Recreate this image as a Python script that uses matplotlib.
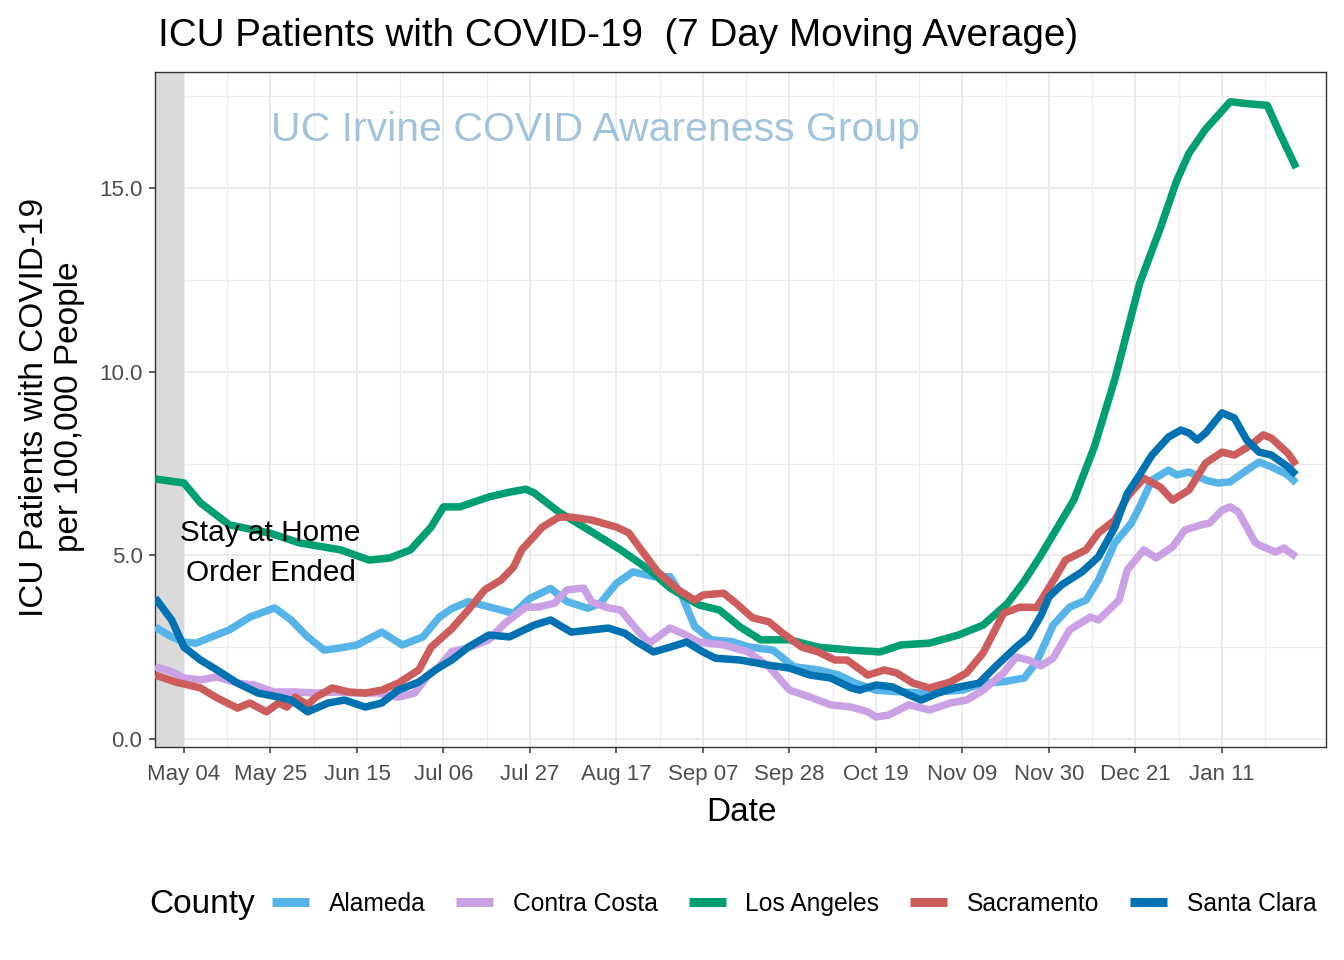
import numpy as np
import pandas as pd
import matplotlib
matplotlib.use("Agg")
import matplotlib.pyplot as plt
import matplotlib.dates as mdates
from matplotlib.ticker import FixedLocator, MultipleLocator

plt.rcParams['font.family'] = ['Liberation Sans', 'DejaVu Sans']

BASE_DATE = pd.Timestamp('2020-05-04')

counties = ["Alameda", "Contra Costa", "Los Angeles", "Sacramento", "Santa Clara"]
colors = ["#56B4E9", "#CBA1E5", "#009E73", "#CD5C5C", "#0072B2"]

# days since 2020-05-04 and ICU patients per 100k (7-day average)
alameda_days = [-7, -3, 0, 3, 6, 11, 16, 22, 26, 30, 34, 38, 42, 48, 53, 58, 62, 65, 69, 74,
                80, 84, 89, 93, 98, 101, 105, 109, 114, 118, 121, 124, 128, 133, 137, 143,
                148, 154, 159, 163, 168, 173, 179, 184, 189, 194, 199, 204, 207, 211, 215,
                219, 222, 226, 230, 232, 235, 239, 241, 244, 248, 251, 254, 257, 261, 264,
                268, 270]
alameda_vals = [3.05, 2.78, 2.64, 2.61, 2.75, 2.97, 3.32, 3.57, 3.24, 2.78, 2.42, 2.48, 2.56,
                2.91, 2.56, 2.78, 3.32, 3.55, 3.74, 3.60, 3.42, 3.83, 4.10, 3.74, 3.56, 3.69,
                4.24, 4.55, 4.42, 4.42, 3.87, 3.06, 2.70, 2.65, 2.51, 2.42, 1.97, 1.88, 1.74,
                1.52, 1.33, 1.29, 1.25, 1.29, 1.33, 1.52, 1.56, 1.66, 2.10, 3.10, 3.59, 3.78,
                4.33, 5.34, 5.88, 6.32, 7.05, 7.32, 7.19, 7.27, 7.05, 6.97, 7.00, 7.24, 7.54,
                7.41, 7.19, 6.97]

contra_costa_days = [-7, -3, 0, 4, 8, 13, 17, 22, 27, 32, 37, 42, 47, 52, 56, 59, 62, 65, 69,
                     74, 78, 83, 86, 90, 93, 97, 99, 103, 106, 110, 113, 118, 121, 125, 131,
                     137, 142, 147, 152, 157, 162, 166, 168, 171, 176, 181, 186, 190, 194,
                     199, 202, 205, 208, 211, 215, 220, 222, 227, 229, 233, 236, 240, 243,
                     247, 249, 252, 254, 256, 260, 261, 265, 267, 270]
contra_costa_vals = [1.97, 1.83, 1.66, 1.61, 1.69, 1.52, 1.47, 1.28, 1.28, 1.25, 1.28, 1.25,
                     1.25, 1.14, 1.25, 1.69, 1.97, 2.38, 2.48, 2.70, 3.16, 3.59, 3.59, 3.70,
                     4.06, 4.11, 3.73, 3.57, 3.51, 2.97, 2.61, 3.02, 2.88, 2.64, 2.56, 2.37,
                     1.97, 1.33, 1.14, 0.93, 0.87, 0.74, 0.60, 0.65, 0.93, 0.79, 0.98, 1.06,
                     1.33, 1.80, 2.23, 2.15, 1.99, 2.20, 2.97, 3.32, 3.24, 3.78, 4.60, 5.15,
                     4.93, 5.23, 5.69, 5.83, 5.88, 6.23, 6.32, 6.18, 5.36, 5.28, 5.09, 5.20,
                     4.96]

los_angeles_days = [-7, -2, 0, 4, 11, 21, 28, 38, 45, 50, 55, 60, 63, 67, 74, 79, 83, 85, 91,
                    99, 106, 113, 118, 125, 130, 135, 140, 147, 154, 162, 169, 174, 181, 188,
                    194, 200, 204, 208, 216, 221, 226, 232, 237, 241, 244, 248, 254, 258,
                    263, 266, 270]
los_angeles_vals = [7.08, 7.00, 6.97, 6.43, 5.83, 5.60, 5.34, 5.15, 4.87, 4.93, 5.15, 5.77,
                    6.32, 6.32, 6.59, 6.72, 6.80, 6.70, 6.18, 5.64, 5.15, 4.60, 4.11, 3.65,
                    3.51, 3.05, 2.70, 2.70, 2.50, 2.42, 2.37, 2.56, 2.61, 2.83, 3.10, 3.70,
                    4.30, 5.00, 6.50, 7.95, 9.80, 12.40, 13.90, 15.20, 15.95, 16.60, 17.35,
                    17.30, 17.25, 16.50, 15.55]

sacramento_days = [-7, -2, 4, 8, 13, 16, 20, 23, 25, 27, 30, 32, 36, 40, 44, 48, 52, 57, 60,
                   65, 69, 73, 77, 80, 82, 87, 91, 94, 99, 105, 108, 111, 115, 120, 124, 126,
                   131, 134, 138, 142, 145, 150, 154, 158, 161, 166, 170, 173, 177, 181, 186,
                   190, 194, 199, 203, 207, 211, 214, 219, 222, 226, 229, 233, 237, 240, 244,
                   248, 252, 255, 259, 262, 264, 268, 270]
sacramento_vals = [1.74, 1.55, 1.39, 1.12, 0.84, 0.98, 0.74, 0.98, 0.87, 1.14, 0.93, 1.14,
                   1.39, 1.28, 1.25, 1.33, 1.52, 1.88, 2.50, 3.00, 3.51, 4.06, 4.33, 4.68,
                   5.15, 5.77, 6.04, 6.04, 5.96, 5.77, 5.61, 5.15, 4.55, 4.06, 3.78, 3.92,
                   3.97, 3.70, 3.30, 3.19, 2.91, 2.50, 2.37, 2.15, 2.15, 1.74, 1.88, 1.80,
                   1.52, 1.39, 1.55, 1.80, 2.34, 3.43, 3.59, 3.58, 4.30, 4.87, 5.15, 5.61,
                   5.96, 6.59, 7.10, 6.86, 6.50, 6.78, 7.51, 7.81, 7.73, 8.00, 8.28, 8.19,
                   7.78, 7.46]

santa_clara_days = [-7, -3, 0, 4, 8, 13, 18, 23, 26, 30, 35, 39, 44, 48, 52, 57, 61, 65, 69,
                    74, 79, 85, 89, 94, 99, 103, 107, 110, 114, 118, 122, 126, 129, 135, 139,
                    142, 147, 152, 157, 162, 164, 168, 172, 176, 179, 183, 187, 193, 197, 202,
                    205, 208, 210, 213, 218, 222, 226, 229, 232, 235, 239, 242, 244, 246, 248,
                    252, 255, 258, 261, 264, 268, 270]
santa_clara_vals = [3.84, 3.24, 2.50, 2.15, 1.88, 1.52, 1.25, 1.14, 1.06, 0.74, 0.98, 1.06,
                    0.87, 0.98, 1.33, 1.55, 1.88, 2.15, 2.50, 2.83, 2.78, 3.10, 3.24, 2.91,
                    2.97, 3.02, 2.88, 2.64, 2.37, 2.50, 2.64, 2.37, 2.20, 2.15, 2.07, 2.01,
                    1.93, 1.74, 1.66, 1.39, 1.33, 1.47, 1.42, 1.20, 1.06, 1.25, 1.39, 1.52,
                    1.97, 2.50, 2.78, 3.35, 3.87, 4.19, 4.55, 4.96, 5.77, 6.68, 7.19, 7.73,
                    8.22, 8.41, 8.33, 8.14, 8.33, 8.88, 8.74, 8.14, 7.81, 7.73, 7.41, 7.19]

series_days = [alameda_days, contra_costa_days, los_angeles_days, sacramento_days, santa_clara_days]
series_vals = [alameda_vals, contra_costa_vals, los_angeles_vals, sacramento_vals, santa_clara_vals]

tick_dates = pd.date_range('2020-05-04', periods=13, freq='21D')
y_ticks = [0.0, 5.0, 10.0, 15.0]


def to_date(days):
    return BASE_DATE + pd.to_timedelta(np.asarray(days), unit='D')


fig = plt.figure(figsize=(13.44, 9.6), dpi=100)
ax = fig.add_axes([155 / 1344, 1 - 747 / 960, (1326 - 155) / 1344, (747 - 72) / 960])

x_left = BASE_DATE - pd.Timedelta(days=7.04)
x_right = BASE_DATE + pd.Timedelta(days=277.25)
ax.set_xlim(x_left, x_right)
ax.set_ylim(-0.218, 18.16)

# shaded "stay at home" period
ax.axvspan(x_left, BASE_DATE, color='#DADADA', zorder=1.5, lw=0)

for name, col, d, v in zip(counties, colors, series_days, series_vals):
    ax.plot(to_date(d), v, color=col, lw=5.4, label=name, solid_capstyle='butt',
            solid_joinstyle='round', zorder=3)

# axes styling (theme_bw-like)
ax.xaxis.set_major_locator(FixedLocator(mdates.date2num(tick_dates)))
ax.xaxis.set_major_formatter(mdates.DateFormatter('%b %d'))
minor_x = mdates.date2num(tick_dates[0]) + 10.5 * np.arange(-1, 26, 2)
ax.xaxis.set_minor_locator(FixedLocator(minor_x))
ax.set_yticks(y_ticks)
ax.set_yticklabels([f"{t:.1f}" for t in y_ticks])
ax.yaxis.set_minor_locator(MultipleLocator(2.5))

ax.grid(which='major', color='#EBEBEB', lw=1.3, zorder=0)
ax.grid(which='minor', color='#EBEBEB', lw=0.8, zorder=0)
ax.set_axisbelow(True)
for s in ax.spines.values():
    s.set_color('#333333')
    s.set_linewidth(1.0)
ax.tick_params(which='major', direction='out', length=4, width=1.1, color='#333333',
               labelsize=16, labelcolor='#4D4D4D')
ax.tick_params(axis='x', pad=8)
ax.tick_params(axis='y', pad=5)
ax.tick_params(which='minor', length=0)

ax.text(BASE_DATE + pd.Timedelta(days=21), 5.06, "Stay at Home\nOrder Ended",
        ha='center', va='center', fontsize=21.4, color='black', zorder=4,
        linespacing=1.55)

ax.text(0.376, 0.914, "UC Irvine COVID Awareness Group", transform=ax.transAxes,
        ha='center', va='center', fontsize=29.5, color='#A2C3DC', zorder=4)

fig.text(158 / 1344, 1 - 46 / 960, "ICU Patients with COVID-19  (7 Day Moving Average)",
         ha='left', va='baseline', fontsize=27.8)
fig.text(741 / 1344, 1 - 821 / 960, "Date", ha='center', va='baseline', fontsize=24)
fig.text(52 / 1344, 1 - 407 / 960, "ICU Patients with COVID-19\nper 100,000 People",
         rotation=90, ha='center', va='center', multialignment='center', fontsize=24,
         linespacing=1.17)

fig.text(149 / 1344, 1 - 904 / 960, "County", ha='left', va='center', fontsize=24)
handles, labels = ax.get_legend_handles_labels()
leg = fig.legend(handles, labels, loc='center left', bbox_to_anchor=(272 / 1344, 1 - 904 / 960),
                 ncol=5, frameon=False, fontsize=17.7, handlelength=1.5, handletextpad=0.8,
                 columnspacing=1.26, borderpad=0, borderaxespad=0)
for lh in leg.get_lines():
    lh.set_linewidth(6.5)

fig.savefig('out.png', dpi=100)
